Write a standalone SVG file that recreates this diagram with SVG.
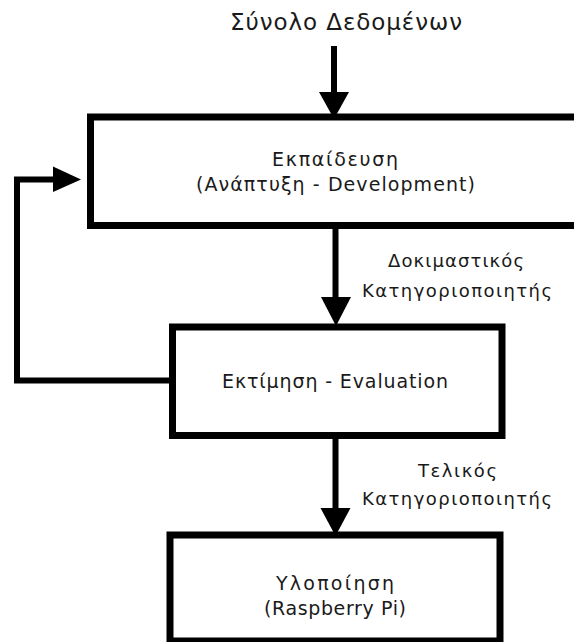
<svg xmlns="http://www.w3.org/2000/svg" width="574" height="642" viewBox="0 0 574 642">
<style>
.box{fill:#fff;stroke:#000;stroke-width:7}
.ln{fill:none;stroke:#000;stroke-width:6}
.head{fill:#000}
text{font-family:"DejaVu Sans",sans-serif;fill:#1a1a1a;text-anchor:middle}
.t{font-size:19px}
.l{font-size:18px}
.big{font-size:23px}
</style>
<rect width="574" height="642" fill="#fff"/>
<g id="input-label">
<text class="big" x="346" y="30" textLength="232" lengthAdjust="spacing">Σύνολο Δεδομένων</text>
</g>
<g id="training">
<rect class="box" x="90.5" y="117" width="500" height="108.5"/>
<text class="t" x="335" y="166" textLength="126" lengthAdjust="spacing">Εκπαίδευση</text>
<text class="t" x="335.5" y="191" textLength="279" lengthAdjust="spacing">(Ανάπτυξη - Development)</text>
</g>
<g id="evaluation">
<rect class="box" x="172.5" y="327" width="329.5" height="108.5"/>
<text class="t" x="335" y="388" textLength="226" lengthAdjust="spacing">Εκτίμηση - Evaluation</text>
</g>
<g id="deployment">
<rect class="box" x="170" y="535" width="330" height="106"/>
<text class="t" x="335" y="590" textLength="118" lengthAdjust="spacing">Υλοποίηση</text>
<text class="t" x="335" y="615" textLength="142" lengthAdjust="spacing">(Raspberry Pi)</text>
</g>
<g id="connectors">
<line class="ln" x1="334" y1="46" x2="334" y2="94"/>
<polygon class="head" points="319,92 349,92 334,119"/>
<line class="ln" x1="335.5" y1="225" x2="335.5" y2="299"/>
<polygon class="head" points="321,297 351,297 336,326"/>
<text class="l" x="456" y="267" textLength="136" lengthAdjust="spacing">Δοκιμαστικός</text>
<text class="l" x="457" y="297" textLength="190" lengthAdjust="spacing">Κατηγοριοποιητής</text>
<polyline class="ln" points="172,380.5 17,380.5 17,179.5 55,179.5"/>
<polygon class="head" points="53,166.5 53,192 81,179.5"/>
<line class="ln" x1="335.5" y1="435" x2="335.5" y2="510"/>
<polygon class="head" points="320.5,508 350.5,508 335.5,536"/>
<text class="l" x="457.5" y="477" textLength="79" lengthAdjust="spacing">Τελικός</text>
<text class="l" x="457" y="505" textLength="190" lengthAdjust="spacing">Κατηγοριοποιητής</text>
</g>
</svg>
